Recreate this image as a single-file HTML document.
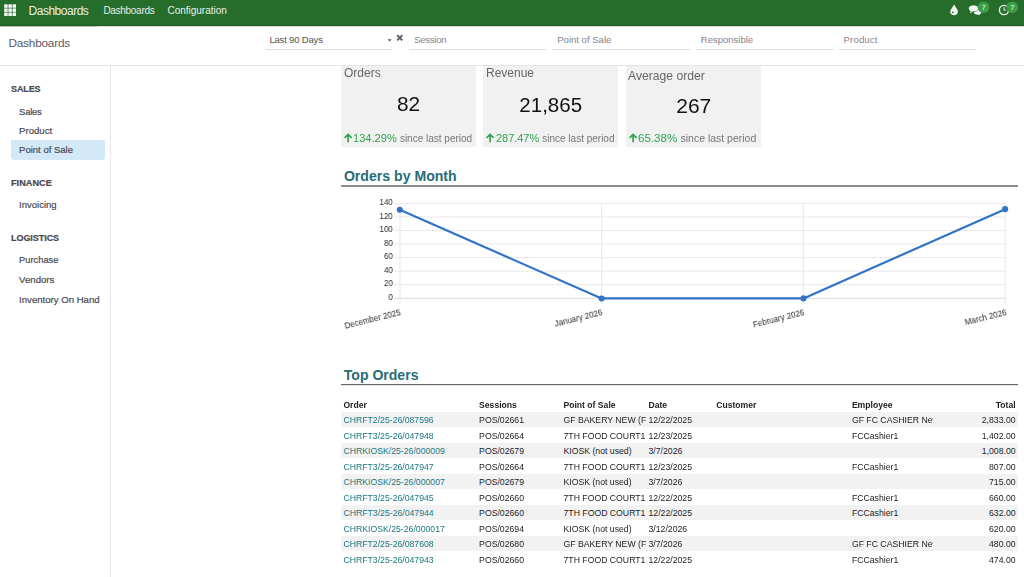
<!DOCTYPE html>
<html><head><meta charset="utf-8"><title>Dashboards</title>
<style>
html,body{margin:0;padding:0;background:#fff;width:1024px;height:577px;overflow:hidden;position:relative;font-family:"Liberation Sans",sans-serif;}
.t{position:absolute;white-space:nowrap;line-height:1;}
.r{position:absolute;}
.u{-webkit-text-stroke:0.2px currentColor;}
.g{will-change:transform;}
</style></head><body>
<div class="r" style="left:0px;top:0px;width:1024px;height:25px;background:#266c2a;"></div>
<div class="r" style="left:0px;top:25px;width:1024px;height:1px;background:#1d5a21;"></div>
<div class="r" style="left:0px;top:26px;width:97px;height:1px;background:#b9bcb9;"></div>
<div class="r" style="left:97px;top:26px;width:927px;height:1px;background:#d3e0d3;"></div>
<svg class="r" style="left:0;top:0" width="20" height="20"><rect x="4.20" y="4.30" width="3.5" height="3.5" fill="#f2f6f2"/><rect x="8.35" y="4.30" width="3.5" height="3.5" fill="#f2f6f2"/><rect x="12.50" y="4.30" width="3.5" height="3.5" fill="#f2f6f2"/><rect x="4.20" y="8.40" width="3.5" height="3.5" fill="#f2f6f2"/><rect x="8.35" y="8.40" width="3.5" height="3.5" fill="#f2f6f2"/><rect x="12.50" y="8.40" width="3.5" height="3.5" fill="#f2f6f2"/><rect x="4.20" y="12.50" width="3.5" height="3.5" fill="#f2f6f2"/><rect x="8.35" y="12.50" width="3.5" height="3.5" fill="#f2f6f2"/><rect x="12.50" y="12.50" width="3.5" height="3.5" fill="#f2f6f2"/></svg>
<div class="t " style="top:4.84px;font-size:12px;color:#e8efe8;left:28.6px;letter-spacing:-0.5px;">Dashboards</div>
<div class="t " style="top:5.73px;font-size:10px;color:#e8efe8;left:103.4px;letter-spacing:-0.29px;">Dashboards</div>
<div class="t " style="top:5.73px;font-size:10px;color:#e8efe8;left:167.5px;letter-spacing:-0.02px;">Configuration</div>

<svg class="r" style="left:940px;top:0" width="84" height="24" viewBox="0 0 84 24">
 <path d="M14.1 4.5 C12.5 7.5 10.3 9.5 10.3 11.8 C10.3 13.9 12 15.3 14.1 15.3 C16.2 15.3 17.9 13.9 17.9 11.8 C17.9 9.5 15.7 7.5 14.1 4.5 Z" fill="#f2f6f2"/>
 <circle cx="12.9" cy="12.3" r="0.9" fill="#266c2a"/>
 <ellipse cx="37.6" cy="12.2" rx="3.6" ry="2.4" fill="#f2f6f2"/>
 <path d="M38.5 13.2 L40.8 15.3 L37.5 14.3 Z" fill="#f2f6f2"/>
 <ellipse cx="33.6" cy="8.4" rx="4.9" ry="3.2" fill="#f2f6f2" stroke="#266c2a" stroke-width="0.9"/>
 <path d="M30.6 10.2 L32.8 11.2 L30.2 13.6 Z" fill="#f2f6f2"/>
 <ellipse cx="33.6" cy="8.4" rx="4.6" ry="2.9" fill="#f2f6f2"/>
 <circle cx="43.5" cy="7.2" r="5.8" fill="#3a9f45"/>
 <text x="43.6" y="9.8" font-size="7.5" text-anchor="middle" fill="#f4f4e8" font-family="Liberation Sans">7</text>
 <circle cx="64" cy="10" r="4.6" fill="none" stroke="#f2f6f2" stroke-width="1.4"/>
 <path d="M64 7.2 L64 10.2 L65.8 10.2" fill="none" stroke="#f2f6f2" stroke-width="1"/>
 <circle cx="72.2" cy="7.2" r="5.8" fill="#3a9f45"/>
 <text x="72.3" y="9.8" font-size="7.5" text-anchor="middle" fill="#f4f4e8" font-family="Liberation Sans">7</text>
</svg>
<div class="t " style="top:37.51px;font-size:11.8px;color:#5a5a64;left:8.4px;letter-spacing:-0.2px;">Dashboards</div>
<div class="r" style="left:266.3px;top:48.5px;width:126.2px;height:1.2px;background:#dedede;"></div>
<div class="t " style="top:35.27px;font-size:9.6px;color:#555;left:269.4px;letter-spacing:-0.22px;">Last 90 Days</div>
<div class="r" style="left:409.4px;top:48.5px;width:137.1px;height:1.2px;background:#dedede;"></div>
<div class="t " style="top:35.27px;font-size:9.6px;color:#85858f;left:414.2px;letter-spacing:-0.3px;">Session</div>
<div class="r" style="left:552.4px;top:48.5px;width:137.6px;height:1.2px;background:#dedede;"></div>
<div class="t " style="top:35.27px;font-size:9.6px;color:#85858f;left:557.1999999999999px;letter-spacing:-0.02px;">Point of Sale</div>
<div class="r" style="left:696px;top:48.5px;width:137.6px;height:1.2px;background:#dedede;"></div>
<div class="t " style="top:35.27px;font-size:9.6px;color:#85858f;left:700.8px;letter-spacing:-0.05px;">Responsible</div>
<div class="r" style="left:838.8px;top:48.5px;width:137.5px;height:1.2px;background:#dedede;"></div>
<div class="t " style="top:35.27px;font-size:9.6px;color:#85858f;left:843.5999999999999px;letter-spacing:0.12px;">Product</div>
<svg class="r" style="left:386px;top:38px" width="8" height="5"><path d="M1.6 1.2 L5.6 1.2 L3.6 3.6 Z" fill="#555"/></svg>
<svg class="r" style="left:395px;top:33px" width="10" height="10"><path d="M2.2 2.3 L7.3 7.4 M7.3 2.3 L2.2 7.4" stroke="#5a636b" stroke-width="2" stroke-linecap="butt"/></svg>
<div class="r" style="left:0px;top:65px;width:1024px;height:1px;background:#e6e6ea;"></div>
<div class="r" style="left:110px;top:66px;width:1px;height:511px;background:#e6e6ea;"></div>
<div class="r" style="left:11px;top:140px;width:94px;height:19.8px;background:#d4e9f7;border-radius:0 0 3px 3px;"></div>
<div class="t u" style="top:84.58px;font-size:9.0px;color:#4a4a52;left:11px;font-weight:bold;letter-spacing:-0.1px;">SALES</div>
<div class="t u" style="top:106.54px;font-size:9.4px;color:#4a4a52;left:19.1px;letter-spacing:-0.2px;">Sales</div>
<div class="t u" style="top:125.77px;font-size:9.6px;color:#4a4a52;left:19.1px;">Product</div>
<div class="t u" style="top:144.76px;font-size:9.5px;color:#4a4a52;left:19.1px;">Point of Sale</div>
<div class="t u" style="top:178.51px;font-size:9.2px;color:#4a4a52;left:11px;font-weight:bold;">FINANCE</div>
<div class="t u" style="top:200.26px;font-size:9.5px;color:#4a4a52;left:19.1px;">Invoicing</div>
<div class="t u" style="top:234.18px;font-size:9.0px;color:#4a4a52;left:11px;font-weight:bold;letter-spacing:-0.05px;">LOGISTICS</div>
<div class="t u" style="top:256.33px;font-size:9.3px;color:#4a4a52;left:19.1px;">Purchase</div>
<div class="t u" style="top:275.37px;font-size:9.6px;color:#4a4a52;left:19.1px;">Vendors</div>
<div class="t u" style="top:294.67px;font-size:9.6px;color:#4a4a52;left:19.1px;">Inventory On Hand</div>
<div class="r" style="left:341px;top:66px;width:135.2px;height:80.6px;background:#f1f1f1;"></div>
<div class="t g" style="top:66.64px;font-size:12px;color:#666;left:343.9px;">Orders</div>
<div class="t g" style="left:341px;width:135.2px;text-align:center;top:94.29px;font-size:20.8px;color:#111">82</div>
<svg class="r" style="left:343.9px;top:132.6px" width="10" height="11" viewBox="0 0 10 11"><path d="M4.1 1.4 L4.1 9.3 M0.6 4.9 L4.1 1.4 L7.6 4.9" fill="none" stroke="#2fa450" stroke-width="1.7" stroke-linejoin="miter"/></svg>
<div class="t g" style="top:132.70px;font-size:11.1px;color:#2fa450;left:353.4px;"><span style="color:#2fa450">134.29%</span> <span style="color:#777;font-size:10.0px">since last period</span></div>
<div class="r" style="left:483.1px;top:66px;width:135.4px;height:80.6px;background:#f1f1f1;"></div>
<div class="t g" style="top:66.64px;font-size:12px;color:#666;left:486.2px;">Revenue</div>
<div class="t g" style="left:483.1px;width:135.4px;text-align:center;top:95.25px;font-size:20.5px;color:#111">21,865</div>
<svg class="r" style="left:486.2px;top:132.6px" width="10" height="11" viewBox="0 0 10 11"><path d="M4.1 1.4 L4.1 9.3 M0.6 4.9 L4.1 1.4 L7.6 4.9" fill="none" stroke="#2fa450" stroke-width="1.7" stroke-linejoin="miter"/></svg>
<div class="t g" style="top:132.83px;font-size:10.95px;color:#2fa450;left:495.7px;"><span style="color:#2fa450">287.47%</span> <span style="color:#777;font-size:10.0px">since last period</span></div>
<div class="r" style="left:625.5px;top:66px;width:135.5px;height:80.6px;background:#f1f1f1;"></div>
<div class="t g" style="top:69.50px;font-size:12.17px;color:#666;left:628.3px;">Average order</div>
<div class="t g" style="left:625.5px;width:135.5px;text-align:center;top:95.42px;font-size:21.0px;color:#111">267</div>
<svg class="r" style="left:628.8px;top:132.6px" width="10" height="11" viewBox="0 0 10 11"><path d="M4.1 1.4 L4.1 9.3 M0.6 4.9 L4.1 1.4 L7.6 4.9" fill="none" stroke="#2fa450" stroke-width="1.7" stroke-linejoin="miter"/></svg>
<div class="t g" style="top:132.28px;font-size:11.6px;color:#2fa450;left:638.3000000000001px;"><span style="color:#2fa450">65.38%</span> <span style="color:#777;font-size:10.48px">since last period</span></div>
<div class="t " style="top:168.96px;font-size:14.1px;color:#286d76;left:343.9px;font-weight:bold;">Orders by Month</div>
<div class="r" style="left:341px;top:185px;width:677px;height:2px;background:#8d8d8d;"></div>
<div class="t " style="top:367.61px;font-size:14.05px;color:#286d76;left:343.8px;font-weight:bold;">Top Orders</div>
<div class="r" style="left:341px;top:384px;width:677px;height:1px;background:#666;"></div>
<div class="r" style="left:341px;top:385px;width:677px;height:1px;background:#e4e4e4;"></div>
<svg class="r" style="left:0;top:0" width="1024" height="577"><line x1="394" x2="1005.7" y1="284.67" y2="284.67" stroke="#e8e8e8" stroke-width="1"/><line x1="394" x2="1005.7" y1="271.14" y2="271.14" stroke="#e8e8e8" stroke-width="1"/><line x1="394" x2="1005.7" y1="257.61" y2="257.61" stroke="#e8e8e8" stroke-width="1"/><line x1="394" x2="1005.7" y1="244.08" y2="244.08" stroke="#e8e8e8" stroke-width="1"/><line x1="394" x2="1005.7" y1="230.55" y2="230.55" stroke="#e8e8e8" stroke-width="1"/><line x1="394" x2="1005.7" y1="217.02" y2="217.02" stroke="#e8e8e8" stroke-width="1"/><line x1="394" x2="1005.7" y1="203.49" y2="203.49" stroke="#e8e8e8" stroke-width="1"/><line x1="400.0" x2="400.0" y1="203" y2="304" stroke="#e8e8e8" stroke-width="1"/><line x1="601.6" x2="601.6" y1="203" y2="304" stroke="#e8e8e8" stroke-width="1"/><line x1="803.4" x2="803.4" y1="203" y2="304" stroke="#e8e8e8" stroke-width="1"/><line x1="1005.2" x2="1005.2" y1="203" y2="304" stroke="#e8e8e8" stroke-width="1"/><line x1="394" x2="1005.7" y1="298.3" y2="298.3" stroke="#dadada" stroke-width="1"/><polyline points="399.8,209.8 601.6,298.45 803.5,298.4 1005.1,209.15" fill="none" stroke="#3273c6" stroke-width="2.2" stroke-linejoin="round"/><circle cx="399.8" cy="209.8" r="3.05" fill="#3273c6"/><circle cx="601.6" cy="298.45" r="3.05" fill="#3273c6"/><circle cx="803.5" cy="298.4" r="3.05" fill="#3273c6"/><circle cx="1005.1" cy="209.15" r="3.05" fill="#3273c6"/></svg>
<div class="t g" style="top:292.87px;font-size:8.9px;color:#2a2a2a;right:631.20px;transform:scaleX(0.9);transform-origin:100% 50%;">0</div>
<div class="t g" style="top:279.34px;font-size:8.9px;color:#2a2a2a;right:631.20px;transform:scaleX(0.9);transform-origin:100% 50%;">20</div>
<div class="t g" style="top:265.81px;font-size:8.9px;color:#2a2a2a;right:631.20px;transform:scaleX(0.9);transform-origin:100% 50%;">40</div>
<div class="t g" style="top:252.28px;font-size:8.9px;color:#2a2a2a;right:631.20px;transform:scaleX(0.9);transform-origin:100% 50%;">60</div>
<div class="t g" style="top:238.75px;font-size:8.9px;color:#2a2a2a;right:631.20px;transform:scaleX(0.9);transform-origin:100% 50%;">80</div>
<div class="t g" style="top:225.22px;font-size:8.9px;color:#2a2a2a;right:631.20px;transform:scaleX(0.9);transform-origin:100% 50%;">100</div>
<div class="t g" style="top:211.69px;font-size:8.9px;color:#2a2a2a;right:631.20px;transform:scaleX(0.9);transform-origin:100% 50%;">120</div>
<div class="t g" style="top:198.16px;font-size:8.9px;color:#2a2a2a;right:631.20px;transform:scaleX(0.9);transform-origin:100% 50%;">140</div>
<div class="t g" style="right:623.0px;top:308.3px;font-size:8.8px;color:#2a2a2a;transform-origin:100% 50%;transform:rotate(-14deg) scaleX(0.92);line-height:8.8px">December 2025</div>
<div class="t g" style="right:421.4px;top:308.3px;font-size:8.8px;color:#2a2a2a;transform-origin:100% 50%;transform:rotate(-14deg) scaleX(0.92);line-height:8.8px">January 2026</div>
<div class="t g" style="right:219.6px;top:308.3px;font-size:8.8px;color:#2a2a2a;transform-origin:100% 50%;transform:rotate(-14deg) scaleX(0.92);line-height:8.8px">February 2026</div>
<div class="t g" style="right:17.8px;top:308.3px;font-size:8.8px;color:#2a2a2a;transform-origin:100% 50%;transform:rotate(-14deg) scaleX(0.92);line-height:8.8px">March 2026</div>
<div class="t " style="top:400.72px;font-size:8.6px;color:#222;left:343.4px;font-weight:bold;">Order</div>
<div class="t " style="top:400.72px;font-size:8.6px;color:#222;left:479.1px;font-weight:bold;">Sessions</div>
<div class="t " style="top:400.72px;font-size:8.6px;color:#222;left:563.5px;font-weight:bold;">Point of Sale</div>
<div class="t " style="top:400.72px;font-size:8.6px;color:#222;left:648.5px;font-weight:bold;">Date</div>
<div class="t " style="top:400.72px;font-size:8.6px;color:#222;left:716.2px;font-weight:bold;">Customer</div>
<div class="t " style="top:400.72px;font-size:8.6px;color:#222;left:851.9px;font-weight:bold;">Employee</div>
<div class="t " style="top:400.72px;font-size:8.6px;color:#222;right:8.40px;font-weight:bold;">Total</div>
<div class="r" style="left:340.9px;top:411.5px;width:677.1px;height:15.55px;background:#f2f2f2;"></div>
<div class="t " style="top:416.04px;font-size:8.7px;color:#1a7880;left:343.4px;">CHRFT2/25-26/087596</div>
<div class="t " style="top:416.04px;font-size:8.7px;color:#222;left:479.1px;">POS/02661</div>
<div class="t" style="left:563.5px;top:416.04px;font-size:8.7px;color:#222;width:82.3px;overflow:hidden">GF BAKERY NEW (FC)</div>
<div class="t " style="top:416.04px;font-size:8.7px;color:#222;left:648.5px;">12/22/2025</div>
<div class="t" style="left:851.9px;top:416.04px;font-size:8.7px;color:#222;width:80.7px;overflow:hidden">GF FC CASHIER New</div>
<div class="t " style="top:416.04px;font-size:8.7px;color:#222;right:8.40px;">2,833.00</div>
<div class="t " style="top:431.59px;font-size:8.7px;color:#1a7880;left:343.4px;">CHRFT3/25-26/047948</div>
<div class="t " style="top:431.59px;font-size:8.7px;color:#222;left:479.1px;">POS/02664</div>
<div class="t" style="left:563.5px;top:431.59px;font-size:8.7px;color:#222;width:82.3px;overflow:hidden">7TH FOOD COURT1</div>
<div class="t " style="top:431.59px;font-size:8.7px;color:#222;left:648.5px;">12/23/2025</div>
<div class="t" style="left:851.9px;top:431.59px;font-size:8.7px;color:#222;width:80.7px;overflow:hidden">FCCashier1</div>
<div class="t " style="top:431.59px;font-size:8.7px;color:#222;right:8.40px;">1,402.00</div>
<div class="r" style="left:340.9px;top:442.6px;width:677.1px;height:15.55px;background:#f2f2f2;"></div>
<div class="t " style="top:447.14px;font-size:8.7px;color:#1a7880;left:343.4px;">CHRKIOSK/25-26/000009</div>
<div class="t " style="top:447.14px;font-size:8.7px;color:#222;left:479.1px;">POS/02679</div>
<div class="t" style="left:563.5px;top:447.14px;font-size:8.7px;color:#222;width:82.3px;overflow:hidden">KIOSK (not used)</div>
<div class="t " style="top:447.14px;font-size:8.7px;color:#222;left:648.5px;">3/7/2026</div>
<div class="t " style="top:447.14px;font-size:8.7px;color:#222;right:8.40px;">1,008.00</div>
<div class="t " style="top:462.69px;font-size:8.7px;color:#1a7880;left:343.4px;">CHRFT3/25-26/047947</div>
<div class="t " style="top:462.69px;font-size:8.7px;color:#222;left:479.1px;">POS/02664</div>
<div class="t" style="left:563.5px;top:462.69px;font-size:8.7px;color:#222;width:82.3px;overflow:hidden">7TH FOOD COURT1</div>
<div class="t " style="top:462.69px;font-size:8.7px;color:#222;left:648.5px;">12/23/2025</div>
<div class="t" style="left:851.9px;top:462.69px;font-size:8.7px;color:#222;width:80.7px;overflow:hidden">FCCashier1</div>
<div class="t " style="top:462.69px;font-size:8.7px;color:#222;right:8.40px;">807.00</div>
<div class="r" style="left:340.9px;top:473.7px;width:677.1px;height:15.55px;background:#f2f2f2;"></div>
<div class="t " style="top:478.24px;font-size:8.7px;color:#1a7880;left:343.4px;">CHRKIOSK/25-26/000007</div>
<div class="t " style="top:478.24px;font-size:8.7px;color:#222;left:479.1px;">POS/02679</div>
<div class="t" style="left:563.5px;top:478.24px;font-size:8.7px;color:#222;width:82.3px;overflow:hidden">KIOSK (not used)</div>
<div class="t " style="top:478.24px;font-size:8.7px;color:#222;left:648.5px;">3/7/2026</div>
<div class="t " style="top:478.24px;font-size:8.7px;color:#222;right:8.40px;">715.00</div>
<div class="t " style="top:493.79px;font-size:8.7px;color:#1a7880;left:343.4px;">CHRFT3/25-26/047945</div>
<div class="t " style="top:493.79px;font-size:8.7px;color:#222;left:479.1px;">POS/02660</div>
<div class="t" style="left:563.5px;top:493.79px;font-size:8.7px;color:#222;width:82.3px;overflow:hidden">7TH FOOD COURT1</div>
<div class="t " style="top:493.79px;font-size:8.7px;color:#222;left:648.5px;">12/22/2025</div>
<div class="t" style="left:851.9px;top:493.79px;font-size:8.7px;color:#222;width:80.7px;overflow:hidden">FCCashier1</div>
<div class="t " style="top:493.79px;font-size:8.7px;color:#222;right:8.40px;">660.00</div>
<div class="r" style="left:340.9px;top:504.8px;width:677.1px;height:15.55px;background:#f2f2f2;"></div>
<div class="t " style="top:509.34px;font-size:8.7px;color:#1a7880;left:343.4px;">CHRFT3/25-26/047944</div>
<div class="t " style="top:509.34px;font-size:8.7px;color:#222;left:479.1px;">POS/02660</div>
<div class="t" style="left:563.5px;top:509.34px;font-size:8.7px;color:#222;width:82.3px;overflow:hidden">7TH FOOD COURT1</div>
<div class="t " style="top:509.34px;font-size:8.7px;color:#222;left:648.5px;">12/22/2025</div>
<div class="t" style="left:851.9px;top:509.34px;font-size:8.7px;color:#222;width:80.7px;overflow:hidden">FCCashier1</div>
<div class="t " style="top:509.34px;font-size:8.7px;color:#222;right:8.40px;">632.00</div>
<div class="t " style="top:524.89px;font-size:8.7px;color:#1a7880;left:343.4px;">CHRKIOSK/25-26/000017</div>
<div class="t " style="top:524.89px;font-size:8.7px;color:#222;left:479.1px;">POS/02694</div>
<div class="t" style="left:563.5px;top:524.89px;font-size:8.7px;color:#222;width:82.3px;overflow:hidden">KIOSK (not used)</div>
<div class="t " style="top:524.89px;font-size:8.7px;color:#222;left:648.5px;">3/12/2026</div>
<div class="t " style="top:524.89px;font-size:8.7px;color:#222;right:8.40px;">620.00</div>
<div class="r" style="left:340.9px;top:535.9px;width:677.1px;height:15.55px;background:#f2f2f2;"></div>
<div class="t " style="top:540.44px;font-size:8.7px;color:#1a7880;left:343.4px;">CHRFT2/25-26/087608</div>
<div class="t " style="top:540.44px;font-size:8.7px;color:#222;left:479.1px;">POS/02680</div>
<div class="t" style="left:563.5px;top:540.44px;font-size:8.7px;color:#222;width:82.3px;overflow:hidden">GF BAKERY NEW (FC)</div>
<div class="t " style="top:540.44px;font-size:8.7px;color:#222;left:648.5px;">3/7/2026</div>
<div class="t" style="left:851.9px;top:540.44px;font-size:8.7px;color:#222;width:80.7px;overflow:hidden">GF FC CASHIER New</div>
<div class="t " style="top:540.44px;font-size:8.7px;color:#222;right:8.40px;">480.00</div>
<div class="t " style="top:555.99px;font-size:8.7px;color:#1a7880;left:343.4px;">CHRFT3/25-26/047943</div>
<div class="t " style="top:555.99px;font-size:8.7px;color:#222;left:479.1px;">POS/02660</div>
<div class="t" style="left:563.5px;top:555.99px;font-size:8.7px;color:#222;width:82.3px;overflow:hidden">7TH FOOD COURT1</div>
<div class="t " style="top:555.99px;font-size:8.7px;color:#222;left:648.5px;">12/22/2025</div>
<div class="t" style="left:851.9px;top:555.99px;font-size:8.7px;color:#222;width:80.7px;overflow:hidden">FCCashier1</div>
<div class="t " style="top:555.99px;font-size:8.7px;color:#222;right:8.40px;">474.00</div>
</body></html>
